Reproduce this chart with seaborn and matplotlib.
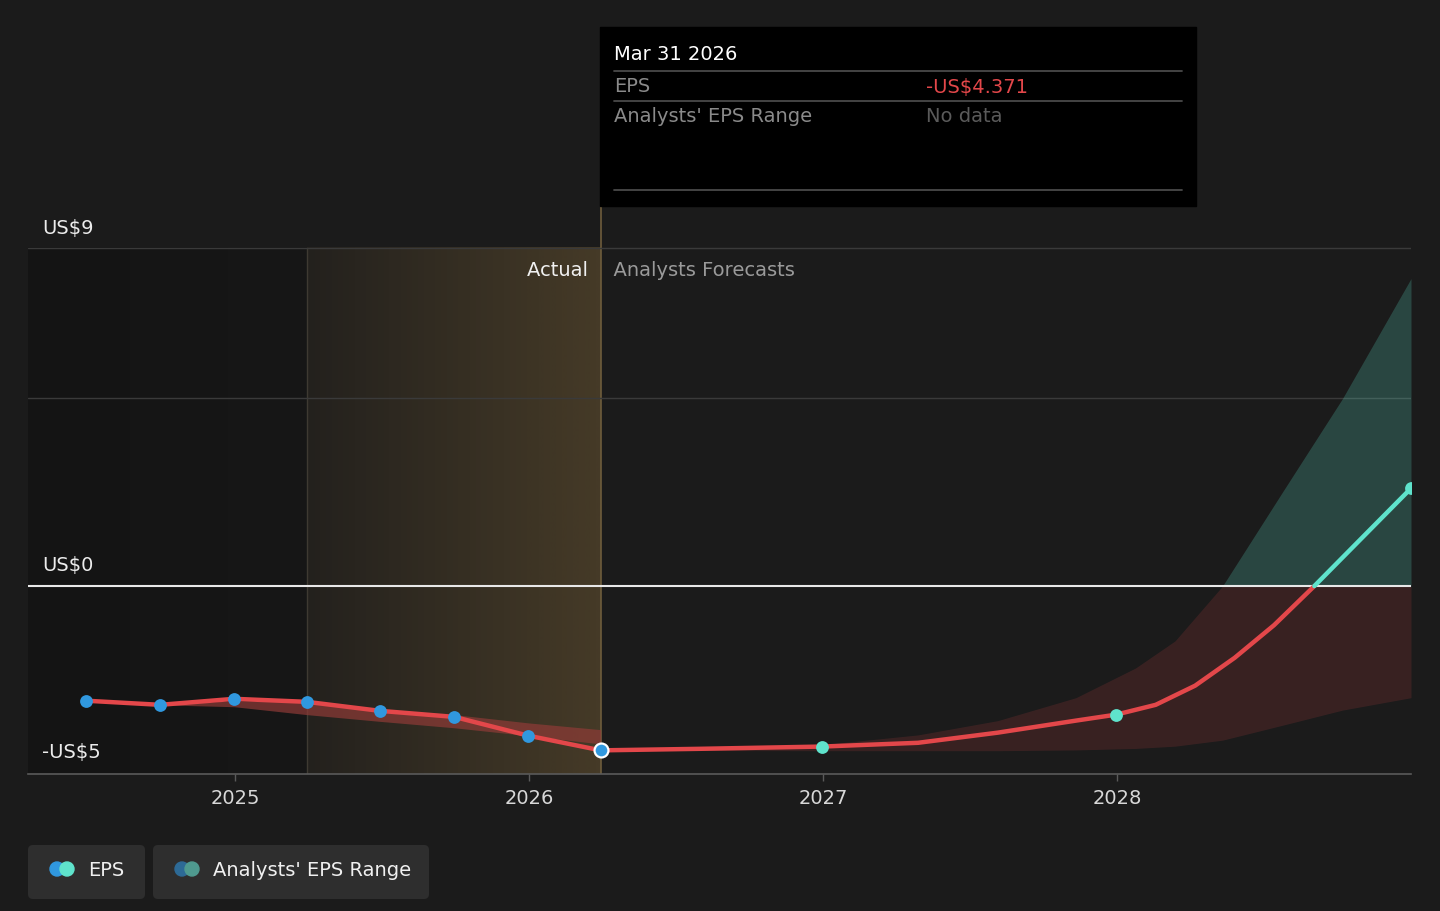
import matplotlib.dates as mdates
import matplotlib.pyplot as plt
import numpy as np
import pandas as pd
import seaborn as sns
from matplotlib.patches import Circle, FancyBboxPatch, Rectangle

BG = "#1b1b1b"
RED = "#e3474a"
TEAL = "#5fe3cc"
BLUE = "#3098df"
GRID = "#3a3a3a"

# reported EPS (quarterly)
actual_dates = ["2024-06-30", "2024-09-30", "2024-12-31", "2025-03-31",
                "2025-06-30", "2025-09-30", "2025-12-31", "2026-03-31"]
actual_eps = [-3.05, -3.16, -3.00, -3.08, -3.32, -3.48, -3.98, -4.371]

# past analysts' range band
past_range_dates = ["2024-09-30", "2024-12-31", "2025-03-31", "2025-06-30",
                    "2025-09-30", "2025-12-31", "2026-03-31"]
past_range_high = [-3.16, -3.05, -3.08, -3.28, -3.42, -3.64, -3.82]
past_range_low = [-3.16, -3.21, -3.42, -3.60, -3.77, -3.98, -4.20]

# forecast EPS points and the curve
forecast_point_dates = ["2026-12-31", "2027-12-31", "2028-12-31"]
forecast_point_eps = [-4.27, -3.42, 2.60]
forecast_line_dates = ["2026-03-31", "2026-08-01", "2026-12-31", "2027-04-29",
                       "2027-08-06", "2027-11-11", "2027-12-31", "2028-02-18",
                       "2028-04-07", "2028-05-26", "2028-07-14", "2028-09-02",
                       "2028-12-31"]
forecast_line_eps = [-4.371, -4.33, -4.27, -4.17, -3.90, -3.58, -3.42, -3.16,
                     -2.65, -1.91, -1.04, 0.0, 2.60]

# forecast analysts' range band
range_dates = ["2026-03-31", "2026-12-31", "2027-04-29", "2027-08-06", "2027-11-11",
               "2028-01-24", "2028-03-13", "2028-05-11", "2028-07-25", "2028-10-07",
               "2028-12-31"]
range_high = [-4.371, -4.22, -3.96, -3.58, -2.97, -2.18, -1.46, 0.0, 2.52, 4.99, 8.18]
range_low = [-4.371, -4.38, -4.38, -4.38, -4.36, -4.32, -4.26, -4.10, -3.70, -3.30, -2.97]

x_ticks = ["2025-01-01", "2026-01-01", "2027-01-01", "2028-01-01"]
x_tick_labels = ["2025", "2026", "2027", "2028"]
y_labels = ["US$9", "US$0", "-US$5"]
y_label_pos = [9.53, 0.56, -4.41]

W, H = 1440, 912
FS = 14

sns.set_theme(style="dark")
plt.rcParams["font.family"] = ["DejaVu Sans"]

fig = plt.figure(figsize=(W / 100, H / 100), dpi=100, facecolor=BG)
ax = fig.add_axes([28 / W, 1 - 775 / H, (1411 - 28) / W, (775 - 207) / H])
ax.set_facecolor(BG)

x0, x1 = pd.Timestamp("2024-04-19"), pd.Timestamp("2028-12-31")
ax.set_xlim(x0, x1)
ax.set_ylim(-5, 10.11)

# background shading: dark past and golden "actual" period
split = mdates.date2num(pd.Timestamp("2025-03-31"))
now = mdates.date2num(pd.Timestamp("2026-03-31"))
grad = np.linspace(0, 1, 256)[None, :]
dark = np.zeros((1, 256, 4))
dark[..., 3] = 0.26 - 0.1 * grad
ax.imshow(dark, extent=[mdates.date2num(x0), split, -5, 9], aspect="auto",
          zorder=0.5, interpolation="bilinear")
gold = np.zeros((1, 256, 4))
gold[..., 0], gold[..., 1], gold[..., 2] = 0.78, 0.6, 0.3
gold[..., 3] = 0.05 + 0.2 * grad
ax.imshow(gold, extent=[split, now, -5, 9], aspect="auto",
          zorder=0.5, interpolation="bilinear")
ax.plot([split, split], [-5, 9], color="#3e3a32", lw=1, zorder=0.6)
ax.axvline(now, color="#6e5d3c", lw=1.2, zorder=0.6)

for g in (9, 5):
    ax.axhline(g, color=GRID, lw=1, zorder=0.7)
ax.axhline(0, color="#e8e8e8", lw=1.5, zorder=3)

# bands
past = pd.DataFrame({"date": pd.to_datetime(past_range_dates),
                     "hi": past_range_high, "lo": past_range_low})
ax.fill_between(past["date"], past["lo"], past["hi"], color="#8f3b37",
                alpha=0.7, lw=0, zorder=1)

rng = pd.DataFrame({"date": pd.to_datetime(range_dates),
                    "hi": range_high, "lo": range_low})
ax.fill_between(rng["date"], np.minimum(rng["lo"], 0), np.minimum(rng["hi"], 0),
                color=RED, alpha=0.15, lw=0, zorder=1)
ax.fill_between(rng["date"], np.maximum(rng["lo"], 0), np.maximum(rng["hi"], 0),
                color=TEAL, alpha=0.22, lw=0, zorder=1)

# EPS lines
act = pd.DataFrame({"date": pd.to_datetime(actual_dates), "eps": actual_eps})
fc = pd.DataFrame({"date": pd.to_datetime(forecast_line_dates), "eps": forecast_line_eps})
line_kw = dict(ax=ax, lw=3.2, estimator=None, sort=False, zorder=4)
sns.lineplot(data=act, x="date", y="eps", color=RED, **line_kw)
sns.lineplot(data=fc[fc["eps"] <= 0], x="date", y="eps", color=RED, **line_kw)
sns.lineplot(data=fc[fc["eps"] >= 0], x="date", y="eps", color=TEAL, **line_kw)

sns.scatterplot(data=act.iloc[:-1], x="date", y="eps", ax=ax, color=BLUE, s=85,
                linewidth=0, zorder=5)
sns.scatterplot(data=act.iloc[-1:], x="date", y="eps", ax=ax, color=BLUE, s=100,
                edgecolor="white", linewidth=1.6, zorder=5)
fpts = pd.DataFrame({"date": pd.to_datetime(forecast_point_dates), "eps": forecast_point_eps})
sns.scatterplot(data=fpts, x="date", y="eps", ax=ax, color=TEAL, s=85,
                linewidth=0, zorder=5)

# axes styling
for side in ("top", "right", "left"):
    ax.spines[side].set_visible(False)
ax.spines["bottom"].set_color("#5a5a5a")
ax.spines["bottom"].set_linewidth(1.2)
ax.set_xticks(pd.to_datetime(x_ticks))
ax.set_xticklabels(x_tick_labels)
ax.set_yticks([])
ax.tick_params(axis="x", bottom=True, length=5, width=1, color="#5a5a5a",
               labelcolor="#d8d8d8", labelsize=FS, pad=5)
ax.grid(False)
ax.set_xlabel("")
ax.set_ylabel("")

for lab, yv in zip(y_labels, y_label_pos):
    ax.text(14 / 1383, yv, lab, transform=ax.get_yaxis_transform(), color="#ececec",
            fontsize=FS, va="center", ha="left", zorder=6)
ax.text(now, 8.42, "Actual  ", color="#f0f0f0", fontsize=FS, ha="right", va="center")
ax.text(now, 8.42, "  Analysts Forecasts", color="#9a9a9a", fontsize=FS,
        ha="left", va="center")

# overlay in pixel coords for tooltip and legend
ov = fig.add_axes([0, 0, 1, 1], facecolor="none")
ov.set_xlim(0, W)
ov.set_ylim(H, 0)
ov.axis("off")

ov.add_patch(Rectangle((600, 28), 596, 179, color="black", zorder=1))
ov.text(614, 55, "Mar 31 2026", color="white", fontsize=FS, va="center")
for yy in (72, 102, 191):
    ov.plot([614, 1182], [yy, yy], color="#4a4a4a", lw=1.3, zorder=2)
ov.text(614, 87, "EPS", color="#8a8a8a", fontsize=FS, va="center")
ov.text(926, 87, "-US$4.371", color=RED, fontsize=FS, va="center")
ov.text(614, 117, "Analysts' EPS Range", color="#8a8a8a", fontsize=FS, va="center")
ov.text(926, 117, "No data", color="#5a5a5a", fontsize=FS, va="center")

legend_items = [
    (28, 117, "EPS", BLUE, TEAL),
    (153, 276, "Analysts' EPS Range", "#2d6a96", "#4f9a8f"),
]
for bx, bw, label, c1, c2 in legend_items:
    ov.add_patch(FancyBboxPatch((bx, 846), bw, 54, boxstyle="round,pad=0,rounding_size=5",
                                facecolor="#2e2e2e", edgecolor="none"))
    ov.add_patch(Circle((bx + 29, 870), 7, color=c1, zorder=3))
    ov.add_patch(Circle((bx + 39, 870), 7, color=c2, zorder=3))
    ov.text(bx + 60, 871, label, color="#f0f0f0", fontsize=FS, va="center")

fig.savefig("out.png", dpi=100, facecolor=BG)
